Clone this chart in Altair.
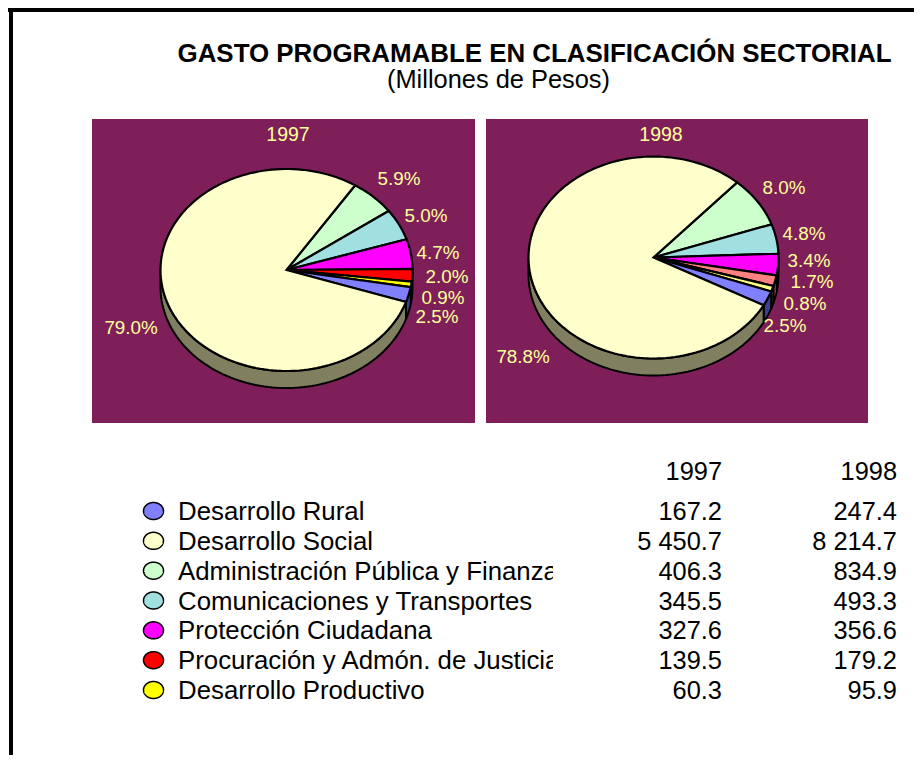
import math
import altair as alt

# ---- values ----
categories = ["Desarrollo Rural", "Desarrollo Social", "Administración Pública y Finanzas",
              "Comunicaciones y Transportes", "Protección Ciudadana",
              "Procuración y Admón. de Justicia", "Desarrollo Productivo"]
values_1997 = [167.2, 5450.7, 406.3, 345.5, 327.6, 139.5, 60.3]
values_1998 = [247.4, 8214.7, 834.9, 493.3, 356.6, 179.2, 95.9]
text_1997 = ["167.2", "5 450.7", "406.3", "345.5", "327.6", "139.5", "60.3"]
text_1998 = ["247.4", "8 214.7", "834.9", "493.3", "356.6", "179.2", "95.9"]
years = ["1997", "1998"]
pct_1997 = ["5.9%", "5.0%", "4.7%", "2.0%", "0.9%", "2.5%", "79.0%"]
pct_1998 = ["8.0%", "4.8%", "3.4%", "1.7%", "0.8%", "2.5%", "78.8%"]
title = "GASTO PROGRAMABLE EN CLASIFICACIÓN SECTORIAL"
subtitle = "(Millones de Pesos)"

# ---- styling and layout (page pixels; chart origin is the 8px margin) ----
M = 8
legend_colors = ["#8080FF", "#FFFFCC", "#CCFFCC", "#A0E0E0", "#FF00FF", "#FF0000", "#FFFF00"]
colors_1998 = ["#8080FF", "#FFFFCC", "#CCFFCC", "#A0E0E0", "#FF00FF", "#FF8080", "#FFFF80"]
side_colors = ["#404090", "#808060", "#668066", "#507070", "#800080", "#800000", "#808000"]
side_colors_98 = ["#404090", "#808060", "#668066", "#507070", "#800080", "#E06070", "#808040"]
slice_order = [2, 3, 4, 5, 6, 0, 1]     # clockwise from the first drawn slice
PURPLE = "#7F1F5A"
LABEL = "#FFFF99"
FONT = "Liberation Sans"
pies = [
    dict(vals=values_1997, cx=286.5, cy=270, rx=126, ry=101, depth=17, start=57, fill=legend_colors, side=side_colors),
    dict(vals=values_1998, cx=653.5, cy=257.5, rx=125, ry=101, depth=17, start=48, fill=colors_1998, side=side_colors_98),
]
pct_pos_1997 = [(399, 179), (426, 216), (438, 253), (447, 277), (443, 297.5), (437, 316.5), (131, 328)]
pct_pos_1998 = [(784, 188), (804, 234), (809, 261), (812, 282), (805, 304), (785, 326), (523, 357)]
panels = [(92, 475, 119, 423), (486, 868, 119, 423)]
panel_titles = [("1997", 288, 135), ("1998", 661, 135)]
ROW_TOP, ROW_BOTTOM = 512, 691
COL_1997, COL_1998 = 722, 897
WIDTH, HEIGHT = 906, 747


def feature(ring, fill):
    return {"type": "Feature",
            "geometry": {"type": "Polygon", "coordinates": [ring]},
            "properties": {"fill": fill}}


def arc_points(p, a, b, dy=0):
    n = max(2, int(abs(b - a) / 2) + 2)
    out = []
    for i in range(n):
        t = math.radians(a + (b - a) * i / (n - 1))
        out.append([p["cx"] + p["rx"] * math.cos(t) - M,
                    p["cy"] - p["ry"] * math.sin(t) + dy - M])
    return out


walls, faces = [], []
for p in pies:
    total = sum(p["vals"])
    angle = p["start"]
    for idx in slice_order:
        sweep = 360 * p["vals"][idx] / total
        a, b = angle, angle - sweep       # clockwise
        angle = b
        # wall: the part of the rim on the lower half of the ellipse
        for lo, hi in ((-180, 0), (-540, -360)):
            top = min(a, hi)
            bot = max(b, lo)
            if top > bot:
                upper = arc_points(p, top, bot)
                lower = arc_points(p, bot, top, p["depth"])
                walls.append(feature(upper + lower + [upper[0]], p["side"][idx]))
        centre = [p["cx"] - M, p["cy"] - M]
        faces.append(feature([centre] + arc_points(p, a, b) + [centre], p["fill"][idx]))

rows_step = (ROW_BOTTOM - ROW_TOP) / (len(categories) - 1)
dots = []
for i, c in enumerate(legend_colors):
    e = dict(cx=153.5, cy=ROW_TOP - 1 + i * rows_step, rx=10, ry=8.5)
    ring = arc_points(e, 0, 360)
    dots.append(feature(ring, c))


def shapes(features, sw):
    return (alt.Chart(alt.Data(values=features))
            .mark_geoshape(stroke="black", strokeWidth=sw)
            .encode(fill=alt.Fill("properties.fill:N", scale=None))
            .project(type="identity", scale=1, translate=[0, 0]))


def label(text, x, y, size, color="black", align="center", weight="normal"):
    return (alt.Chart(alt.Data(values=[{"t": text}]))
            .mark_text(font=FONT, fontSize=size, color=color, align=align, baseline="middle", fontWeight=weight)
            .encode(x=alt.value(x - M), y=alt.value(y - M), text="t:N"))


layers = []
# frame, cropped by the page on the right and bottom
layers.append(alt.Chart(alt.Data(values=[{"a": 0}])).mark_rule(color="black", strokeWidth=4)
              .encode(x=alt.value(0), x2=alt.value(WIDTH), y=alt.value(2)))
layers.append(alt.Chart(alt.Data(values=[{"a": 0}])).mark_rule(color="black", strokeWidth=4)
              .encode(x=alt.value(3), y=alt.value(0), y2=alt.value(HEIGHT)))
for x0, x1, y0, y1 in panels:
    layers.append(alt.Chart(alt.Data(values=[{"a": 0}])).mark_rect(color=PURPLE)
                  .encode(x=alt.value(x0 - M), x2=alt.value(x1 - M), y=alt.value(y0 - M), y2=alt.value(y1 - M)))
layers.append(shapes(walls, 2))
layers.append(shapes(faces, 2.2))
layers.append(shapes(dots, 1.5))

layers.append(label(title, 534.5, 54, 25.9, weight="bold"))
layers.append(label(subtitle, 498.5, 80, 25.4))
for t, x, y in panel_titles:
    layers.append(label(t, x, y, 19.5, color=LABEL))
for texts, pos in ((pct_1997, pct_pos_1997), (pct_1998, pct_pos_1998)):
    for t, (x, y) in zip(texts, pos):
        layers.append(label(t, x, y, 18.8, color=LABEL))

# legend names and numbers share a row scale; numbers use a year scale
y_scale = alt.Scale(domain=categories, range=[ROW_TOP - M, ROW_BOTTOM - M], padding=0)
x_scale = alt.Scale(domain=years, range=[COL_1997 - M, COL_1998 - M], padding=0)
rows = []
for c, a, b in zip(categories, text_1997, text_1998):
    rows.append({"cat": c, "year": years[0], "txt": a})
    rows.append({"cat": c, "year": years[1], "txt": b})
names = [{"cat": c} for c in categories]

layers.append(alt.Chart(alt.Data(values=names))
              .mark_text(font=FONT, fontSize=25.8, align="left", baseline="middle", color="black")
              .encode(x=alt.value(178 - M),
                      y=alt.Y("cat:N", scale=y_scale, axis=None),
                      text="cat:N"))
# the long names are cut by the cell edge in the original sheet
layers.append(alt.Chart(alt.Data(values=[{"a": 0}])).mark_rect(color="white")
              .encode(x=alt.value(553 - M), x2=alt.value(620 - M), y=alt.value(490 - M), y2=alt.value(710 - M)))
layers.append(alt.Chart(alt.Data(values=rows))
              .mark_text(font=FONT, fontSize=25.4, align="right", baseline="middle", color="black")
              .encode(x=alt.X("year:N", scale=x_scale, axis=None),
                      y=alt.Y("cat:N", scale=y_scale, axis=None),
                      text="txt:N"))
layers.append(alt.Chart(alt.Data(values=[{"year": y} for y in years]))
              .mark_text(font=FONT, fontSize=25.4, align="right", baseline="middle", color="black")
              .encode(x=alt.X("year:N", scale=x_scale, axis=None),
                      y=alt.value(472 - M),
                      text="year:N"))

chart = (alt.layer(*layers)
         .properties(width=WIDTH, height=HEIGHT, padding=0, autosize=alt.AutoSizeParams(type="none"),
                     background="white")
         .configure_view(stroke=None))
chart.save("out.html", embed_options={"renderer": "svg", "actions": False})
